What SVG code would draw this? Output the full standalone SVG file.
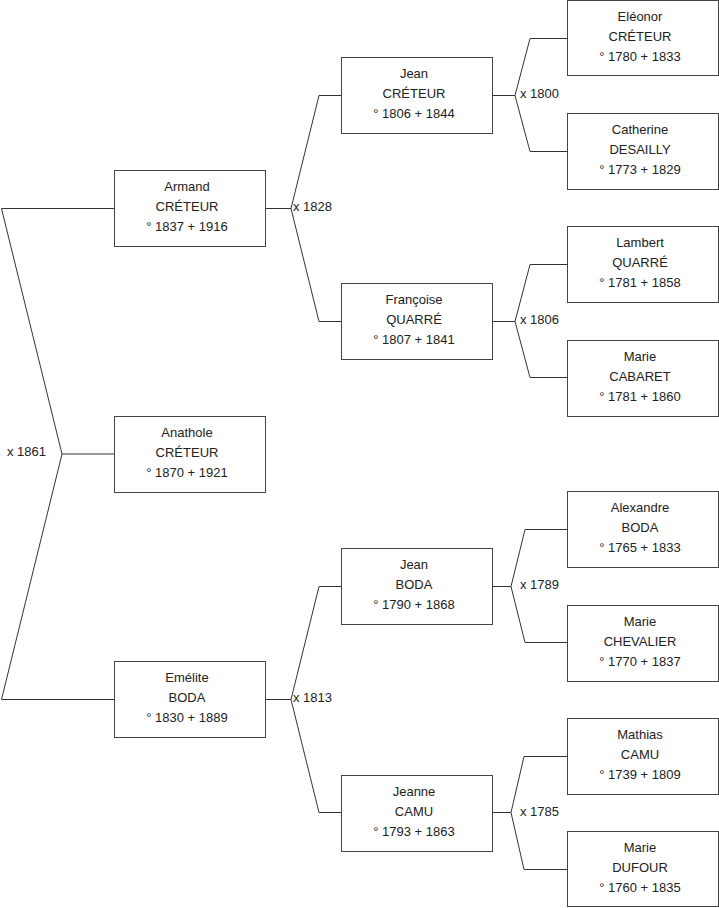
<svg xmlns="http://www.w3.org/2000/svg" width="719" height="908" viewBox="0 0 719 908">
<style>
  .box { fill: #ffffff; stroke: #444444; stroke-width: 1; }
  .ln { fill: none; stroke: #333333; stroke-width: 1; }
  text { font-family: "Liberation Sans", Arial, sans-serif; font-size: 13px; fill: #222222; }
  .c { text-anchor: middle; }
</style>
<rect width="719" height="908" fill="#ffffff"/>
<g id="connectors">
  <polyline class="ln" points="114,208.5 1.5,208.5 62,454 1.5,699.5 114,699.5"/>
  <line class="ln" x1="62" y1="454" x2="114" y2="454"/>
  <text x="7" y="456">x 1861</text>

  <polyline class="ln" points="341,95.5 319,95.5 291,208.5 319,321.5 341,321.5"/>
  <line class="ln" x1="265" y1="208.5" x2="291" y2="208.5"/>
  <text x="293" y="211">x 1828</text>

  <polyline class="ln" points="341,586.5 319,586.5 291,699.5 319,812.5 341,812.5"/>
  <line class="ln" x1="265" y1="699.5" x2="291" y2="699.5"/>
  <text x="293" y="702">x 1813</text>

  <polyline class="ln" points="567,38.5 530,38.5 515,95.5 530,151.5 567,151.5"/>
  <line class="ln" x1="492" y1="95.5" x2="515" y2="95.5"/>
  <text x="520" y="97.5">x 1800</text>

  <polyline class="ln" points="567,264.5 530,264.5 515,321.5 530,377.5 567,377.5"/>
  <line class="ln" x1="492" y1="321.5" x2="515" y2="321.5"/>
  <text x="520" y="324">x 1806</text>

  <polyline class="ln" points="567,529.5 525,529.5 511,586.5 525,642.5 567,642.5"/>
  <line class="ln" x1="492" y1="586.5" x2="511" y2="586.5"/>
  <text x="520" y="589">x 1789</text>

  <polyline class="ln" points="567,756.5 524,756.5 511,812.5 524,869.5 567,869.5"/>
  <line class="ln" x1="492" y1="812.5" x2="511" y2="812.5"/>
  <text x="520" y="815.5">x 1785</text>
</g>

<g id="armand">
  <rect class="box" x="114.5" y="170.5" width="151" height="76"/>
  <text class="c" x="187" y="191">Armand</text>
  <text class="c" x="187" y="210.5">CRÉTEUR</text>
  <text class="c" x="187" y="231">° 1837 + 1916</text>
</g>
<g id="anathole">
  <rect class="box" x="114.5" y="416.5" width="151" height="76"/>
  <text class="c" x="187" y="437">Anathole</text>
  <text class="c" x="187" y="456.5">CRÉTEUR</text>
  <text class="c" x="187" y="477">° 1870 + 1921</text>
</g>
<g id="emelite">
  <rect class="box" x="114.5" y="661.5" width="151" height="76"/>
  <text class="c" x="187" y="682">Emélite</text>
  <text class="c" x="187" y="701.5">BODA</text>
  <text class="c" x="187" y="722">° 1830 + 1889</text>
</g>

<g id="jean-creteur">
  <rect class="box" x="341.5" y="57.5" width="151" height="76"/>
  <text class="c" x="414" y="78">Jean</text>
  <text class="c" x="414" y="97.5">CRÉTEUR</text>
  <text class="c" x="414" y="118">° 1806 + 1844</text>
</g>
<g id="francoise">
  <rect class="box" x="341.5" y="283.5" width="151" height="76"/>
  <text class="c" x="414" y="304">Françoise</text>
  <text class="c" x="414" y="323.5">QUARRÉ</text>
  <text class="c" x="414" y="344">° 1807 + 1841</text>
</g>
<g id="jean-boda">
  <rect class="box" x="341.5" y="548.5" width="151" height="76"/>
  <text class="c" x="414" y="569">Jean</text>
  <text class="c" x="414" y="588.5">BODA</text>
  <text class="c" x="414" y="609">° 1790 + 1868</text>
</g>
<g id="jeanne">
  <rect class="box" x="341.5" y="775.5" width="151" height="76"/>
  <text class="c" x="414" y="796">Jeanne</text>
  <text class="c" x="414" y="815.5">CAMU</text>
  <text class="c" x="414" y="836">° 1793 + 1863</text>
</g>

<g id="eleonor">
  <rect class="box" x="567.5" y="0.5" width="151" height="75"/>
  <text class="c" x="640" y="21">Eléonor</text>
  <text class="c" x="640" y="40.5">CRÉTEUR</text>
  <text class="c" x="640" y="61">° 1780 + 1833</text>
</g>
<g id="catherine">
  <rect class="box" x="567.5" y="113.5" width="151" height="76"/>
  <text class="c" x="640" y="134">Catherine</text>
  <text class="c" x="640" y="153.5">DESAILLY</text>
  <text class="c" x="640" y="174">° 1773 + 1829</text>
</g>
<g id="lambert">
  <rect class="box" x="567.5" y="226.5" width="151" height="76"/>
  <text class="c" x="640" y="247">Lambert</text>
  <text class="c" x="640" y="266.5">QUARRÉ</text>
  <text class="c" x="640" y="287">° 1781 + 1858</text>
</g>
<g id="marie-cabaret">
  <rect class="box" x="567.5" y="340.5" width="151" height="76"/>
  <text class="c" x="640" y="361">Marie</text>
  <text class="c" x="640" y="380.5">CABARET</text>
  <text class="c" x="640" y="401">° 1781 + 1860</text>
</g>
<g id="alexandre">
  <rect class="box" x="567.5" y="491.5" width="151" height="76"/>
  <text class="c" x="640" y="512">Alexandre</text>
  <text class="c" x="640" y="531.5">BODA</text>
  <text class="c" x="640" y="552">° 1765 + 1833</text>
</g>
<g id="marie-chevalier">
  <rect class="box" x="567.5" y="605.5" width="151" height="76"/>
  <text class="c" x="640" y="626">Marie</text>
  <text class="c" x="640" y="645.5">CHEVALIER</text>
  <text class="c" x="640" y="666">° 1770 + 1837</text>
</g>
<g id="mathias">
  <rect class="box" x="567.5" y="718.5" width="151" height="76"/>
  <text class="c" x="640" y="739">Mathias</text>
  <text class="c" x="640" y="758.5">CAMU</text>
  <text class="c" x="640" y="779">° 1739 + 1809</text>
</g>
<g id="marie-dufour">
  <rect class="box" x="567.5" y="831.5" width="151" height="75"/>
  <text class="c" x="640" y="852">Marie</text>
  <text class="c" x="640" y="871.5">DUFOUR</text>
  <text class="c" x="640" y="892">° 1760 + 1835</text>
</g>
</svg>
